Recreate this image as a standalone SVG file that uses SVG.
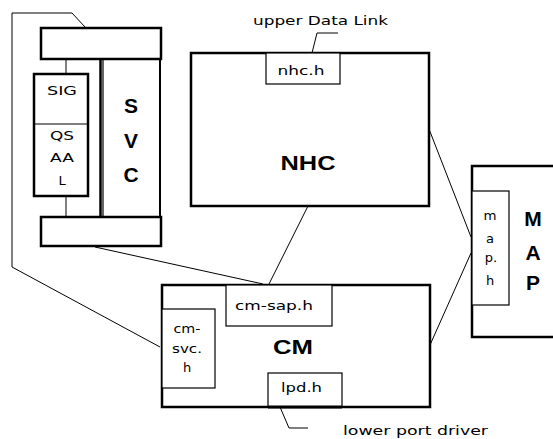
<svg xmlns="http://www.w3.org/2000/svg" width="553" height="439" viewBox="0 0 553 439">
<style>
.thick{fill:#fff;stroke:#000;stroke-width:2.5}
.thin{fill:#fff;stroke:#000;stroke-width:1.2}
.ln{fill:none;stroke:#000;stroke-width:1}
.s{font-family:"DejaVu Sans","Liberation Sans",sans-serif;font-size:13px;fill:#000}
.b{font-family:"Liberation Sans","DejaVu Sans",sans-serif;font-size:21px;font-weight:bold;fill:#000}
</style>
<rect width="553" height="439" fill="#fff"/>
<g id="connectors">
<polyline class="ln" points="85,27 72,13 12,13 12,267 160,347"/>
<polyline class="ln" points="95,247 263,284"/>
<polyline class="ln" points="308,206 269,284"/>
<polyline class="ln" points="429,129 471,237"/>
<polyline class="ln" points="430,345 471,253"/>
<polyline class="ln" points="338,33 317,33 312,53"/>
<polyline class="ln" points="280,407 289,428 308,428"/>
<line class="ln" x1="66" y1="59" x2="66" y2="74"/>
<line class="ln" x1="66" y1="196" x2="66" y2="217"/>
</g>
<g id="svc">
<rect class="thin" x="103" y="59" width="57" height="158"/>
<line x1="160" y1="59" x2="160" y2="217" stroke="#000" stroke-width="2"/>
<line x1="100.5" y1="59" x2="100.5" y2="217" stroke="#000" stroke-width="2.5"/>
<rect class="thick" x="41" y="28" width="120" height="31"/>
<rect class="thick" x="41" y="217" width="120" height="29"/>
<text class="b" x="131" y="113" text-anchor="middle">S</text>
<text class="b" x="131" y="148" text-anchor="middle">V</text>
<text class="b" x="131" y="182" text-anchor="middle">C</text>
</g>
<g id="sig-qsaal">
<rect class="thick" x="34" y="74" width="54" height="122"/>
<line x1="34" y1="124" x2="88" y2="124" stroke="#000" stroke-width="1.2"/>
<text class="s" x="62" y="95" text-anchor="middle" textLength="30" lengthAdjust="spacingAndGlyphs">SIG</text>
<text class="s" x="62" y="140" text-anchor="middle" textLength="24" lengthAdjust="spacingAndGlyphs">QS</text>
<text class="s" x="62" y="162" text-anchor="middle" textLength="24" lengthAdjust="spacingAndGlyphs">AA</text>
<text class="s" x="62" y="185" text-anchor="middle" font-size="14">L</text>
</g>
<g id="nhc">
<rect class="thick" x="191" y="53" width="238" height="153"/>
<rect class="thin" x="266" y="53" width="74" height="31"/>
<text class="s" x="301" y="75" text-anchor="middle" textLength="47" lengthAdjust="spacingAndGlyphs">nhc.h</text>
<text class="b" x="308" y="170" text-anchor="middle" font-size="23" textLength="55" lengthAdjust="spacingAndGlyphs">NHC</text>
</g>
<g id="upper-label">
<text class="s" x="253" y="25" textLength="135" lengthAdjust="spacingAndGlyphs">upper Data Link</text>
</g>
<g id="cm">
<rect class="thick" x="162" y="285" width="268" height="122"/>
<rect class="thin" x="226" y="285" width="106" height="41"/>
<text class="s" x="235" y="310" textLength="78" lengthAdjust="spacingAndGlyphs">cm-sap.h</text>
<rect class="thin" x="162" y="309" width="53" height="79"/>
<text class="s" x="187" y="333" text-anchor="middle" textLength="27" lengthAdjust="spacingAndGlyphs">cm-</text>
<text class="s" x="187" y="353" text-anchor="middle" textLength="30" lengthAdjust="spacingAndGlyphs">svc.</text>
<text class="s" x="187" y="372" text-anchor="middle" font-size="14">h</text>
<rect class="thin" x="268" y="373" width="74" height="34"/>
<line x1="268" y1="407" x2="342" y2="407" stroke="#000" stroke-width="3"/>
<text class="s" x="281" y="392" textLength="41" lengthAdjust="spacingAndGlyphs">lpd.h</text>
<text class="b" x="293" y="354" text-anchor="middle" font-size="23" textLength="40" lengthAdjust="spacingAndGlyphs">CM</text>
</g>
<g id="lower-label">
<text class="s" x="343" y="435" textLength="145" lengthAdjust="spacingAndGlyphs">lower port driver</text>
</g>
<g id="map">
<rect class="thick" x="472" y="166" width="90" height="171"/>
<rect class="thin" x="472" y="191" width="37" height="114"/>
<text class="s" x="490" y="220" text-anchor="middle" font-size="14" textLength="13" lengthAdjust="spacingAndGlyphs">m</text>
<text class="s" x="490" y="243" text-anchor="middle" font-size="14">a</text>
<text class="s" x="491" y="262" text-anchor="middle" font-size="14">p.</text>
<text class="s" x="490" y="285" text-anchor="middle" font-size="14">h</text>
<text class="b" x="533" y="226" text-anchor="middle">M</text>
<text class="b" x="533" y="260" text-anchor="middle">A</text>
<text class="b" x="533" y="290" text-anchor="middle">P</text>
</g>
</svg>
